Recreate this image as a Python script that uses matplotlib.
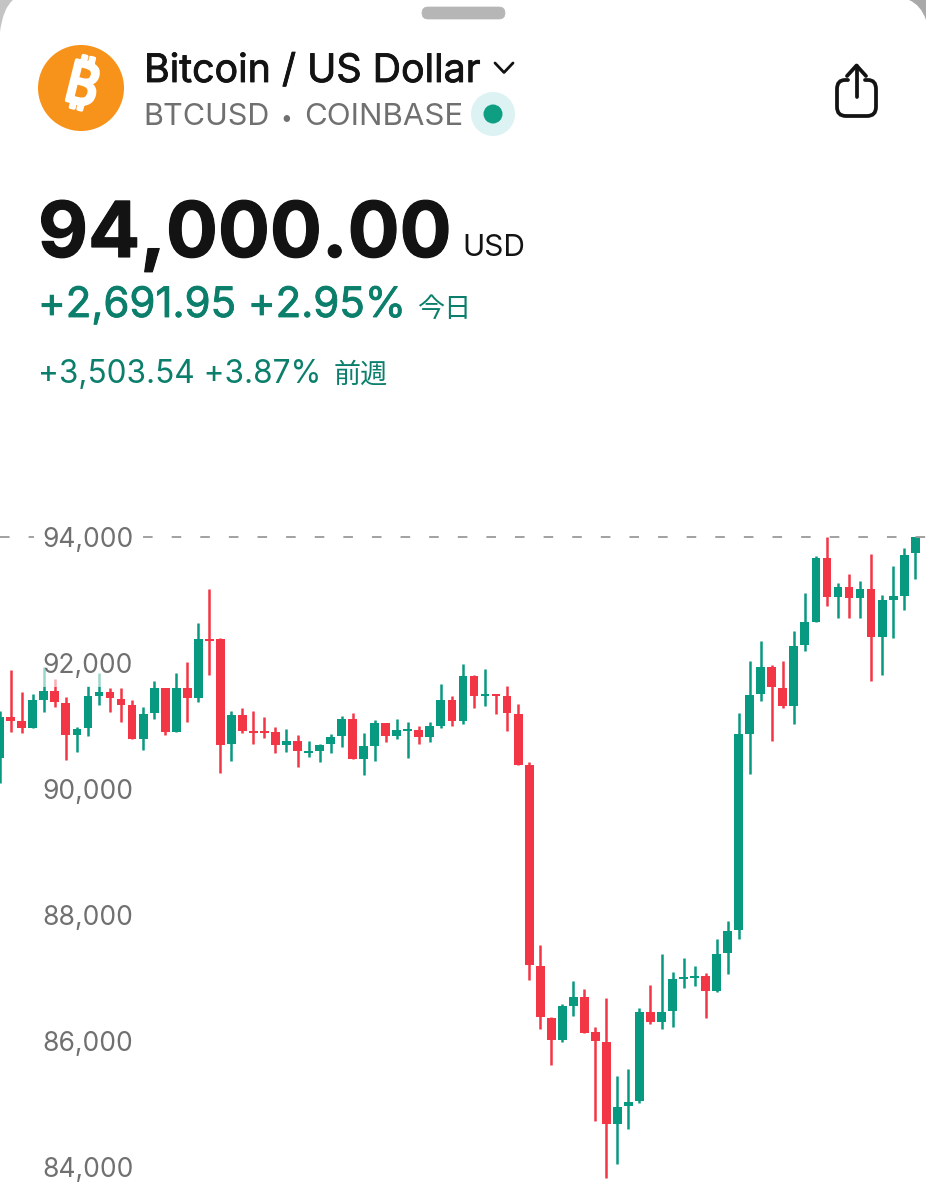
import matplotlib
matplotlib.use("Agg")
import matplotlib.pyplot as plt
from matplotlib.patches import Circle, FancyBboxPatch, PathPatch
from matplotlib.path import Path
import matplotlib.patheffects as pe

opens = [90487,91143,91079,90963,91413,91560,91370,90862,90963,91476,91535,91433,91333,90789,91202,91608,90910,91608,91440,92376,
         92376,90714,91170,90921,90921,90905,90698,90762,90571,90608,90710,90837,91106,90471,90687,91043,90846,90916,90941,90825,
         91005,91417,91075,91798,91481,91513,91481,91190,90381,87195,86370,86016,86551,86703,86138,85989,84687,84968,85043,86456,
         86302,86476,86989,87000,87032,86789,87397,87762,90878,91503,91932,91608,91322,92286,92656,93671,93048,93206,93037,93170,
         92408,92995,93063,93741]
closes = [91148,91084,90963,91413,91560,91376,90862,90952,91471,91535,91440,91338,90789,91190,91608,90910,91608,91440,92376,92344,
          90703,91170,90916,90889,90889,90698,90767,90608,90603,90703,90830,91111,90471,90687,91048,90846,90941,90948,90830,91005,
          91417,91075,91798,91481,91513,91481,91202,90381,87211,86376,86021,86556,86703,86132,85995,84687,84957,85037,86456,86297,
          86465,86989,87021,87037,86789,87381,87746,90868,91492,91932,91619,91322,92275,92651,93671,93052,93206,93037,93170,92408,
          92995,93059,93719,94000]
highs = [91243,91889,91544,91508,91941,91741,91456,90989,91635,91837,91598,91598,91408,91297,91710,91608,91846,92011,92640,93170,
         92402,91238,91281,91238,91143,90979,90948,90852,90767,90714,90868,91159,91202,90889,91090,91043,91106,91063,91005,91068,
         91662,91481,91984,91810,91900,91513,91630,91354,90429,87524,86376,86583,86948,86821,86217,86678,85449,85560,86519,86894,
         87376,87095,87313,87195,87075,87624,87900,91202,92037,92349,91968,92037,92513,93106,93694,94000,93265,93417,93306,93730,
         93079,93544,93821,94000]
lows = [90095,90900,90884,90963,91227,91306,90460,90583,90846,91338,91227,91068,90789,90619,91111,90862,90900,91059,91376,91814,
        90249,90449,90894,90719,90814,90567,90583,90344,90508,90424,90571,90662,90471,90222,90449,90741,90798,90497,90710,90751,
        90973,91000,91037,91286,91313,91186,90925,90376,86963,86186,85619,85989,86397,86132,84735,83821,84048,84608,85021,86275,
        86195,86222,86837,86878,86370,86778,87063,87619,90238,91402,90762,91290,91032,92195,92646,92900,92710,92710,92719,91714,
        91814,92392,92846,93338]
price_ticks = [94000, 92000, 90000, 88000, 86000, 84000]
last_price = 94000

GREEN = "#089981"
RED = "#F23645"
TXT_GREEN = "#0B7F6B"
GREY = "#707070"
INK = "#131313"
W, H = 926, 1200

plt.rcParams["font.family"] = ["Inter", "Noto Sans CJK JP", "DejaVu Sans"]
plt.rcParams["lines.scale_dashes"] = False
plt.rcParams["axes.axisbelow"] = False

fig = plt.figure(figsize=(W / 100, H / 100), dpi=100, facecolor="white")

# ---- candlestick chart
ax = fig.add_axes([0, 0, 1, 1])
ax.patch.set_alpha(0)
idx = list(range(len(opens)))
colors = [GREEN if c >= o else RED for o, c in zip(opens, closes)]
ax.vlines(idx, lows, highs, colors=colors, linewidth=1.8, zorder=1)
ax.bar(idx, [abs(c - o) for o, c in zip(opens, closes)],
       bottom=[min(o, c) for o, c in zip(opens, closes)],
       width=0.8, color=colors, linewidth=0, zorder=1.5)
ax.axhline(last_price, color="#9a9a9a", linewidth=1.3,
           linestyle=(0, (6.9, 13.7)), zorder=2, dash_capstyle="butt")
ax.set_xlim(0.027, 83.98)
ax.set_ylim(83476, 102524)
for s in ax.spines.values():
    s.set_visible(False)
ax.set_xticks([])
ax.set_yticks(price_ticks)
ax.set_yticklabels([f"{v:,}" for v in price_ticks])
ax.tick_params(axis="y", length=0, pad=-30.8, labelsize=19, labelcolor=GREY)
for lbl, v in zip(ax.get_yticklabels(), price_ticks):
    lbl.set_ha("left")
    lbl.set_bbox(dict(facecolor="white", edgecolor="none", pad=6,
                      alpha=1.0 if v == last_price else 0.6))

# ---- app chrome
ov = fig.add_axes([0, 0, 1, 1])
ov.set_xlim(0, W)
ov.set_ylim(H, 0)
ov.axis("off")

def heavier(t, w, color):
    t.set_path_effects([pe.withStroke(linewidth=w, foreground=color)])
    return t

ov.add_patch(PathPatch(Path([(0, 0), (13, 0), (3, 8), (0, 32), (0, 0)],
                            [Path.MOVETO, Path.LINETO, Path.CURVE3, Path.CURVE3, Path.CLOSEPOLY]),
                       facecolor="#c4c4c4", edgecolor="none"))
ov.add_patch(PathPatch(Path([(926, 0), (909, 0), (921, 5), (926, 20), (926, 0)],
                            [Path.MOVETO, Path.LINETO, Path.CURVE3, Path.CURVE3, Path.CLOSEPOLY]),
                       facecolor="#a9a9a9", edgecolor="none"))
ov.add_patch(FancyBboxPatch((422, 7), 83, 12, boxstyle="round,pad=0,rounding_size=6",
                            mutation_aspect=1, facecolor="#b6b6b6", edgecolor="#b6b6b6", linewidth=0.5))

# logo
ov.add_patch(Circle((81, 88), 43, facecolor="#F7931A", edgecolor="none"))
heavier(ov.text(81, 88, "\u20bf", family=["Roboto", "Noto Sans", "Open Sans", "Lato", "Inter", "Liberation Sans", "DejaVu Sans"],
                weight="bold", fontsize=42, color="white",
                rotation=-14, ha="center", va="center", rotation_mode="anchor"), 2.4, "white")

heavier(ov.text(144, 82, "Bitcoin / US Dollar", fontsize=28.3, color=INK, va="baseline"), 0.6, INK)
ov.plot([495, 504, 513], [63, 72.5, 63], color=INK, linewidth=2, solid_capstyle="round", solid_joinstyle="round")
ov.text(143, 125, "BTCUSD", fontsize=22, color=GREY, va="baseline")
ov.text(286, 125, "\u2022", fontsize=15, color=GREY, va="baseline", ha="center")
ov.text(304, 125, "COINBASE", fontsize=22.5, color=GREY, va="baseline")
ov.add_patch(Circle((493, 114), 22, facecolor="#DDF2F3", edgecolor="none"))
ov.add_patch(Circle((493, 114), 9.5, facecolor="#0E9F83", edgecolor="none"))

heavier(ov.text(38, 257, "94,000.00", fontsize=55.5, weight="bold", color=INK, va="baseline"), 0.8, INK)
ov.text(462, 256, "USD", fontsize=21.5, color=INK, va="baseline")
heavier(ov.text(38, 317, "+2,691.95 +2.95%", fontsize=30.2, color=TXT_GREEN, va="baseline"), 0.6, TXT_GREEN)
ov.text(417, 317, "今日", fontsize=19.5, color=TXT_GREEN, va="baseline")
ov.text(38, 383, "+3,503.54 +3.87%", fontsize=22.7, color=TXT_GREEN, va="baseline")
ov.text(334, 383, "前週", fontsize=19.5, color=TXT_GREEN, va="baseline")

# share icon
M, L, C = Path.MOVETO, Path.LINETO, Path.CURVE3
box = Path([(848, 80), (845, 80), (837, 80), (837, 89), (837, 107), (837, 116), (846, 116), (867, 116),
            (876, 116), (876, 107), (876, 89), (876, 80), (868, 80), (865, 80)],
           [M, L, C, C, L, C, C, L, C, C, L, C, C, L])
ov.add_patch(PathPatch(box, facecolor="none", edgecolor=INK, linewidth=2.7, capstyle="round"))
ov.plot([856.5, 856.5], [66, 97], color=INK, linewidth=2.7, solid_capstyle="round")
ov.plot([847, 856.5, 866], [76, 65.5, 76], color=INK, linewidth=2.7,
        solid_capstyle="round", solid_joinstyle="round")

fig.savefig("out.png", dpi=100, facecolor="white")
